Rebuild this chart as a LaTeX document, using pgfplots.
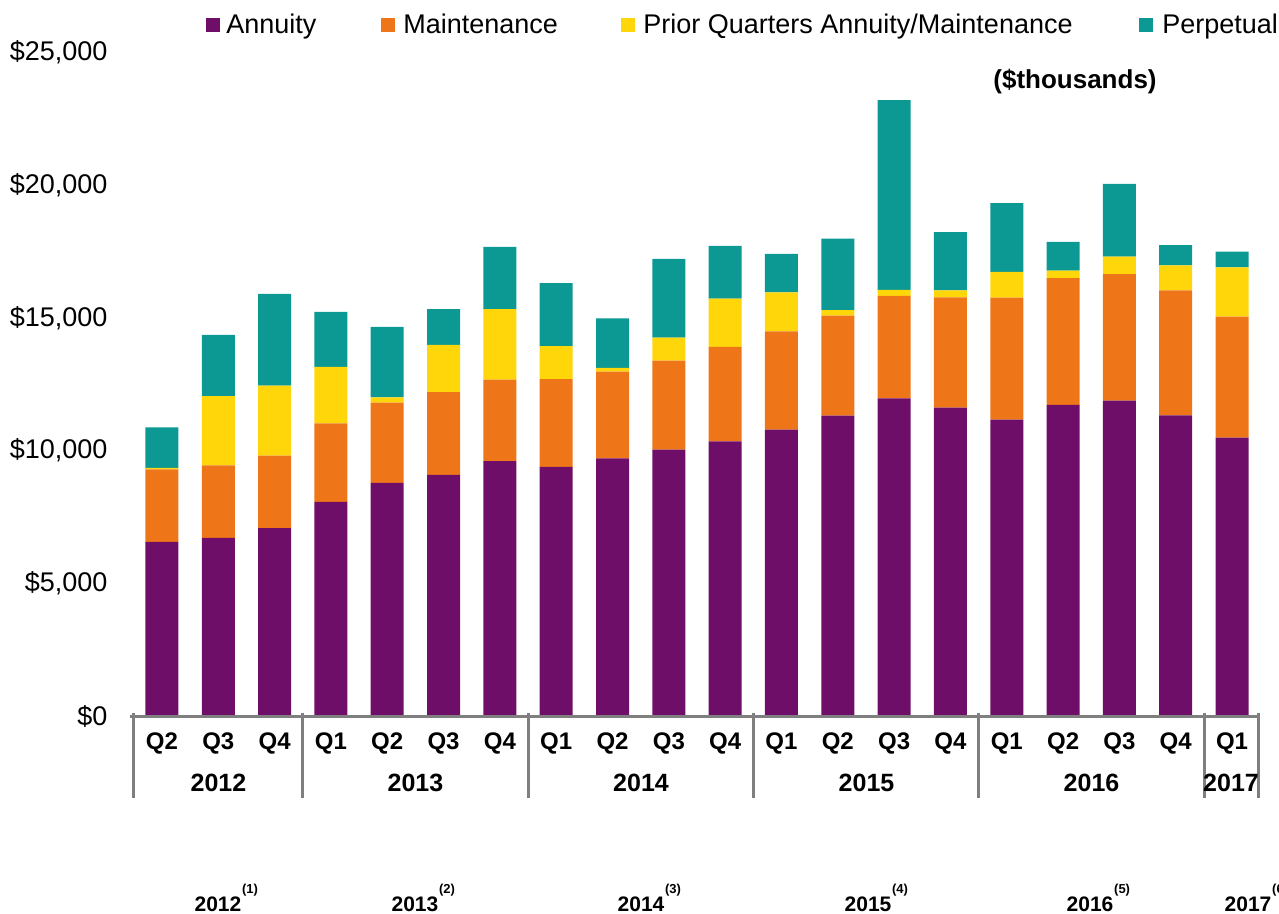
\documentclass[border=0pt]{standalone}
\usepackage{pgfplots}
\pgfplotsset{compat=1.18}
\usepackage{pgfplotstable}
\usepackage{fontspec}
\setmainfont{Liberation Sans}
\definecolor{cAnn}{HTML}{6F0E68}
\definecolor{cMnt}{HTML}{EE7618}
\definecolor{cPri}{HTML}{FFD60A}
\definecolor{cPer}{HTML}{0C9994}
\definecolor{cAx}{HTML}{7F7F7F}

\pgfplotstableread{
x A M P Pe
0 6570 2730 50 1530
1 6720 2730 2600 2310
2 7090 2720 2640 3450
3 8070 2960 2120 2070
4 8790 3020 200 2650
5 9090 3110 1780 1350
6 9610 3060 2660 2340
7 9390 3300 1240 2370
8 9710 3260 150 1860
9 10040 3350 860 2970
10 10350 3560 1810 1990
11 10790 3700 1470 1440
12 11320 3760 210 2690
13 11970 3850 230 7140
14 11620 4150 260 2190
15 11170 4590 970 2580
16 11720 4770 280 1090
17 11880 4760 660 2740
18 11330 4700 940 760
19 10490 4550 1860 590
}\datatable

\begin{document}
\begin{tikzpicture}
\useasboundingbox (0pt,0pt) rectangle (639.5pt,457pt);
\begin{axis}[
  at={(66.9pt,98.75pt)}, anchor=south west,
  scale only axis, width=563.2pt, height=332.25pt,
  ybar stacked, bar width=16.5pt,
  xmin=-0.5, xmax=19.5, ymin=0, ymax=25000,
  axis line style={draw=none},
  clip=false,
  major tick length=0pt,
  xtick={0,...,19},
  xticklabels={Q2,Q3,Q4,Q1,Q2,Q3,Q4,Q1,Q2,Q3,Q4,Q1,Q2,Q3,Q4,Q1,Q2,Q3,Q4,Q1},
  xticklabel style={font=\fontsize{12}{14}\selectfont\bfseries, anchor=base, inner sep=0pt, yshift=-16.75pt},
  ytick={0,5000,10000,15000,20000,25000},
  scaled y ticks=false,
  yticklabel={\$\pgfmathprintnumber{\tick}},
  yticklabel style={font=\fontsize{13.5}{16}\selectfont, anchor=east, inner sep=0pt, xshift=-13pt},
  /pgf/number format/.cd, fixed, 1000 sep={,}, assume math mode=true, /pgfplots/.cd,
]
\addplot[fill=cAnn, draw=none] table[x=x,y=A]{\datatable};
\addplot[fill=cMnt, draw=none] table[x=x,y=M]{\datatable};
\addplot[fill=cPri, draw=none] table[x=x,y=P]{\datatable};
\addplot[fill=cPer, draw=none] table[x=x,y=Pe]{\datatable};
\end{axis}

\begin{scope}[shift={(0pt,457pt)}, x=0.5pt, y=-0.5pt]
% category axis line and group separators
\draw[cAx, line width=1.5pt] (130,716.5) -- (1260,716.5);
\foreach \xx in {133.8,302.8,528,753.1,978.6,1204,1258.5}{
  \draw[cAx, line width=1.5pt] (\xx,713) -- (\xx,798);
}

% year labels
\foreach \xx/\yy in {218.5/2012,415.5/2013,641/2014,866.5/2015,1091.5/2016,1231/2017}{
  \node[anchor=base, inner sep=0pt, font=\fontsize{12.5}{15}\selectfont\bfseries] at (\xx,792) {\yy};
}

% bottom year labels with note markers
\foreach \xx/\yy/\nn in {218/2012/1,415/2013/2,641/2014/3,868/2015/4,1090/2016/5,1248/2017/6}{
  \node[anchor=base, inner sep=0pt, font=\fontsize{10.5}{12}\selectfont\bfseries] at (\xx,912)
    {\yy\rlap{\hspace{0.4pt}\raisebox{9pt}{\fontsize{6.5}{7}\selectfont (\nn)}}};
}

% legend
\fill[cAnn] (206,18) rectangle (220,32);
\node[anchor=base west, inner sep=0pt, font=\fontsize{13.5}{16}\selectfont] at (226,34) {Annuity};
\fill[cMnt] (381,18) rectangle (395,32);
\node[anchor=base west, inner sep=0pt, font=\fontsize{13.5}{16}\selectfont] at (403,34) {Maintenance};
\fill[cPri] (621,18) rectangle (635,32);
\node[anchor=base west, inner sep=0pt, font=\fontsize{13.5}{16}\selectfont] at (643,34) {Prior Quarters Annuity/Maintenance};
\fill[cPer] (1139,18) rectangle (1153,32);
\node[anchor=base west, inner sep=0pt, font=\fontsize{13.5}{16}\selectfont] at (1162,34) {Perpetual};

\node[inner sep=0pt, font=\fontsize{13}{15}\selectfont\bfseries] at (1075,82) {(\$thousands)};
\end{scope}
\end{tikzpicture}
\end{document}
